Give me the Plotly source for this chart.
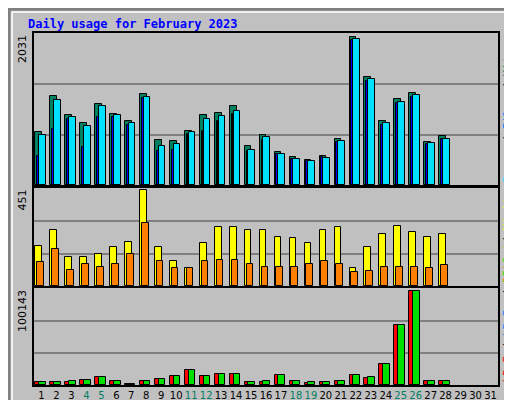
import plotly.graph_objects as go

days = list(range(1, 32))
data_days = list(range(1, 29))
weekends = [4, 5, 11, 12, 18, 19, 25, 26]

hits = [718, 1192, 934, 826, 1083, 948, 853, 1219, 609, 596, 731, 934, 961, 1056, 528, 677, 447, 379, 338, 393, 623, 1991, 1449, 853, 1151, 1233, 582, 664]
files = [393, 758, 880, 515, 907, 907, 812, 1165, 460, 474, 691, 731, 866, 948, 460, 609, 420, 352, 325, 379, 582, 1950, 1395, 812, 1097, 1178, 555, 623]
pages = [677, 1138, 907, 799, 1056, 934, 839, 1178, 528, 555, 718, 880, 921, 988, 474, 650, 420, 352, 325, 366, 596, 1964, 1422, 826, 1110, 1205, 569, 623]
visits = [185, 261, 133, 133, 147, 180, 204, 442, 180, 114, 81, 200, 271, 271, 261, 261, 228, 223, 200, 257, 271, 81, 180, 242, 276, 252, 228, 242]
sites = [109, 171, 76, 104, 90, 104, 147, 290, 114, 81, 81, 114, 119, 119, 100, 90, 90, 90, 104, 114, 104, 66, 71, 90, 90, 90, 81, 95]
kb_f = [3195, 3195, 3195, 5325, 8520, 4260, 1065, 4260, 6390, 9585, 15975, 9585, 11715, 11715, 3195, 3195, 10650, 4260, 2130, 3195, 4260, 10650, 7455, 21300, 61770, 98000, 4260, 4260]
kb_out = [3195, 3195, 4260, 5325, 8520, 4260, 1065, 4260, 6390, 9585, 15975, 9585, 11715, 11715, 3195, 4260, 10650, 4260, 3195, 3195, 4260, 10650, 8520, 21300, 61770, 98000, 4260, 4260]
max_hits, max_visits, max_kb = 2031, 451, 100143

fig = go.Figure()
line = dict(color="black", width=1)

fig.add_bar(x=data_days, y=hits, offset=-0.42, width=0.45, marker=dict(color="#008060", line=line), xaxis="x", yaxis="y")
fig.add_bar(x=data_days, y=files, offset=-0.3, width=0.12, marker=dict(color="#0000ff", line=line), xaxis="x", yaxis="y")
fig.add_bar(x=data_days, y=pages, offset=-0.17, width=0.45, marker=dict(color="#00e0ff", line=line), xaxis="x", yaxis="y")
fig.add_bar(x=data_days, y=visits, offset=-0.42, width=0.45, marker=dict(color="#ffff00", line=line), xaxis="x2", yaxis="y2")
fig.add_bar(x=data_days, y=sites, offset=-0.3, width=0.45, marker=dict(color="#ff8000", line=line), xaxis="x2", yaxis="y2")
fig.add_bar(x=data_days, y=kb_f, offset=-0.42, width=0.45, marker=dict(color="#ff0000", line=line), xaxis="x3", yaxis="y3")
fig.add_bar(x=data_days, y=kb_out, offset=-0.17, width=0.45, marker=dict(color="#00e000", line=line), xaxis="x3", yaxis="y3")

ticktext = [f"<span style='color:#008060'>{d}</span>" if d in weekends else str(d) for d in days]

def xax(anchor, labels):
    return dict(domain=[26 / 512, 490 / 512], range=[0.5, 31.5], anchor=anchor, showline=True, mirror=True,
                linecolor="black", linewidth=1.5, showgrid=False, zeroline=False, ticks="",
                tickvals=days, ticktext=ticktext, showticklabels=labels, tickangle=0,
                tickfont=dict(family="DejaVu Sans", size=10, color="black"), fixedrange=True)

def yax(anchor, dom, top):
    return dict(domain=dom, range=[0, top * 1.005], anchor=anchor, showline=True, mirror=True,
                linecolor="black", linewidth=1.5, tickvals=[top / 3, 2 * top / 3], showticklabels=False,
                gridcolor="#808080", gridwidth=1.5, zeroline=False, ticks="")

fig.update_layout(
    width=512, height=400, margin=dict(l=0, r=0, t=0, b=0),
    paper_bgcolor="#c0c0c0", plot_bgcolor="#c0c0c0", barmode="overlay", showlegend=False, bargap=0,
    xaxis=xax("y", False), xaxis2=xax("y2", False), xaxis3=xax("y3", True),
    yaxis=yax("x", [0.5575, 0.9375], max_hits),
    yaxis2=yax("x2", [0.305, 0.55], max_visits),
    yaxis3=yax("x3", [0.0575, 0.30], max_kb),
)

mono = "DejaVu Sans Mono"
ann = [
    dict(x=18 / 512, y=1 - 16 / 400, text="<b>Daily usage for February 2023</b>", xanchor="left", yanchor="middle",
         font=dict(family=mono, size=12, color="#0000ff")),
    dict(x=14 / 512, y=0.9375, text=str(max_hits), textangle=-90, xanchor="center", yanchor="top", font=dict(family="DejaVu Sans", size=11)),
    dict(x=14 / 512, y=0.55, text=str(max_visits), textangle=-90, xanchor="center", yanchor="top", font=dict(family="DejaVu Sans", size=11)),
    dict(x=14 / 512, y=0.30, text=str(max_kb), textangle=-90, xanchor="center", yanchor="top", font=dict(family="DejaVu Sans", size=11)),
    dict(x=499 / 512, y=0.5575, textangle=-90, xanchor="center", yanchor="bottom", font=dict(family=mono, size=11),
         text="<span style='color:#00e0ff'>Pages</span> / <span style='color:#0080ff'>Files</span> / <span style='color:#008060'>Hits</span>"),
    dict(x=499 / 512, y=0.305, textangle=-90, xanchor="center", yanchor="bottom", font=dict(family=mono, size=11),
         text="<span style='color:#ff8000'>Sites</span> / <span style='color:#ffff00'>Visits</span>"),
    dict(x=499 / 512, y=0.0575, textangle=-90, xanchor="center", yanchor="bottom", font=dict(family=mono, size=11),
         text="<span style='color:#ff0000'>kB F</span> / <span style='color:#0080ff'>kB In</span> / <span style='color:#00e000'>kB Out</span>"),
]
for a in ann:
    a.update(xref="paper", yref="paper", showarrow=False)
    a["font"].setdefault("color", "black")
fig.update_layout(annotations=ann)

# bevel border
fig.add_shape(type="rect", xref="paper", yref="paper", x0=0.002, y0=0.003, x1=0.998, y1=0.997,
              line=dict(color="#808080", width=3))
fig.add_shape(type="rect", xref="paper", yref="paper", x0=0.008, y0=0.01, x1=0.99, y1=0.99,
              line=dict(color="white", width=1.5))

fig.write_html("out.html")
